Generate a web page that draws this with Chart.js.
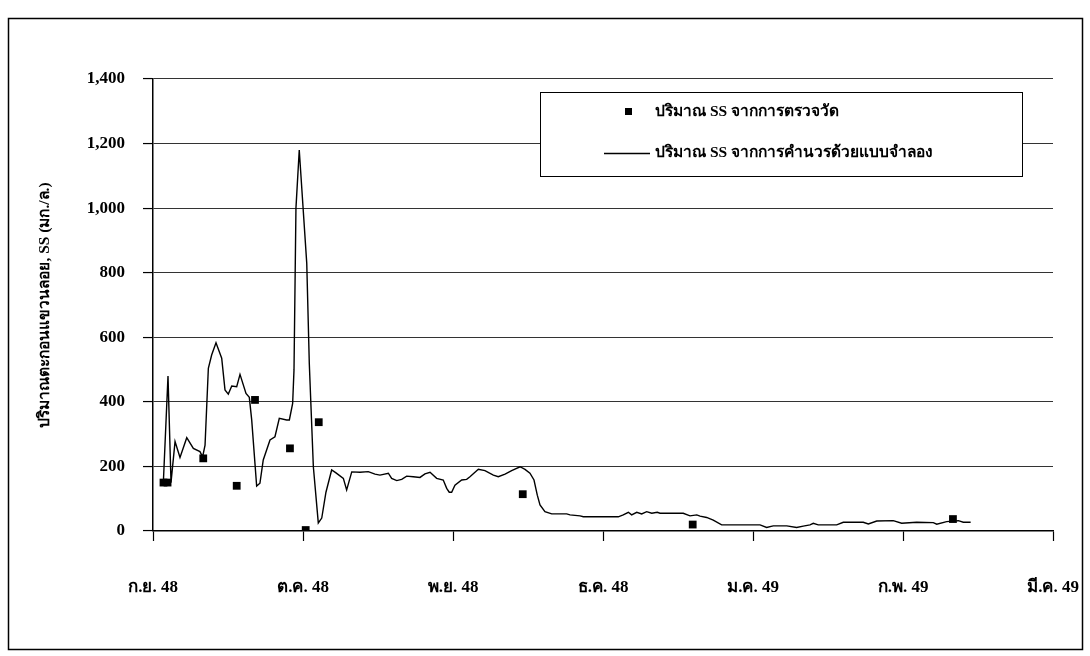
<!DOCTYPE html>
<html>
<head>
<meta charset="utf-8">
<script src="https://cdn.jsdelivr.net/npm/chart.js@4/dist/chart.umd.min.js"></script>
<style>
  html, body { margin: 0; padding: 0; background: #fff; }
  #wrap { width: 1090px; height: 656px; }
</style>
</head>
<body>
<div id="wrap"><canvas id="chart" width="1090" height="656"></canvas></div>
<script>
// x positions are in months from 1 Sep 2548 (0 = ก.ย. 48, 6 = มี.ค. 49)
const monthLabels = ["ก.ย. 48", "ต.ค. 48", "พ.ย. 48", "ธ.ค. 48", "ม.ค. 49", "ก.พ. 49", "มี.ค. 49"];

// measured suspended sediment (mg/l)
const measuredMonths = [0.070, 0.097, 0.335, 0.558, 0.680, 0.913, 1.018, 1.105, 2.465, 3.598, 5.333];
const measuredValues = [150, 150, 225, 140, 406, 256, 3, 337, 114, 20, 37];

// simulated suspended sediment (mg/l)
const modelMonths = [
  0.069, 0.100, 0.120, 0.147, 0.180, 0.225, 0.269, 0.313, 0.331, 0.347,
  0.369, 0.391, 0.420, 0.458, 0.480, 0.502, 0.525, 0.558, 0.580, 0.620,
  0.642, 0.658, 0.691, 0.713, 0.735, 0.780, 0.813, 0.842, 0.891, 0.909,
  0.931, 0.940, 0.953, 0.975, 1.025, 1.042, 1.069, 1.102, 1.125, 1.153,
  1.191, 1.220, 1.269, 1.291, 1.325, 1.380, 1.435, 1.480, 1.513, 1.569,
  1.591, 1.625, 1.658, 1.691, 1.735, 1.780, 1.813, 1.847, 1.891, 1.935,
  1.958, 1.975, 1.991, 2.013, 2.058, 2.091, 2.113, 2.169, 2.213, 2.269,
  2.302, 2.347, 2.391, 2.447, 2.480, 2.513, 2.540, 2.562, 2.580, 2.613,
  2.658, 2.758, 2.780, 2.847, 2.869, 3.102, 3.135, 3.169, 3.191, 3.225,
  3.258, 3.291, 3.325, 3.362, 3.380, 3.535, 3.580, 3.625, 3.647, 3.691,
  3.735, 3.791, 4.047, 4.091, 4.135, 4.225, 4.291, 4.335, 4.380, 4.402,
  4.435, 4.558, 4.602, 4.735, 4.769, 4.825, 4.935, 4.991, 5.091, 5.202,
  5.225, 5.291, 5.369, 5.402, 5.451
];
const modelValues = [
  150, 480, 150, 277, 228, 289, 256, 246, 230, 266,
  504, 545, 583, 535, 437, 424, 449, 447, 485, 426,
  414, 344, 139, 148, 220, 282, 292, 349, 344, 344,
  395, 499, 1000, 1180, 829, 519, 199, 25, 40, 120,
  189, 180, 163, 127, 183, 182, 184, 176, 173, 179,
  163, 156, 160, 170, 168, 166, 177, 182, 163, 158,
  132, 120, 120, 142, 158, 160, 168, 191, 187, 173,
  168, 176, 187, 199, 191, 179, 158, 111, 81, 60,
  53, 53, 50, 47, 44, 44, 50, 58, 50, 58,
  53, 60, 55, 58, 55, 55, 47, 50, 46, 42,
  34, 19, 19, 11, 16, 16, 11, 15, 19, 24,
  19, 19, 27, 27, 22, 31, 32, 24, 27, 26,
  21, 29, 32, 27, 27
];

const measuredLabel = "ปริมาณ SS จากการตรวจวัด";
const modelLabel = "ปริมาณ SS จากการคำนวรด้วยแบบจำลอง";
const yTitle = "ปริมาณตะกอนแขวนลอย, SS (มก./ล.)";

const FONT = '"Liberation Serif", "Times New Roman", serif';

// white page, outer frame and the boxed legend
const framePlugin = {
  id: "frame",
  beforeDraw(chart) {
    const ctx = chart.ctx;
    ctx.save();
    ctx.fillStyle = "#fff";
    ctx.fillRect(0, 0, chart.width, chart.height);
    ctx.restore();
  },
  afterDraw(chart) {
    const ctx = chart.ctx;
    ctx.save();
    ctx.strokeStyle = "#000";
    ctx.lineWidth = 1.5;
    ctx.strokeRect(8.5, 18.5, 1074, 631);

    // legend box
    ctx.fillStyle = "#fff";
    ctx.fillRect(540, 92, 482, 84);
    ctx.lineWidth = 1;
    ctx.strokeRect(540.5, 92.5, 482, 84);

    ctx.fillStyle = "#000";
    ctx.fillRect(625, 108, 7, 7);
    ctx.beginPath();
    ctx.moveTo(604, 153.5);
    ctx.lineTo(650, 153.5);
    ctx.lineWidth = 1.4;
    ctx.stroke();

    ctx.font = "bold 15.5px " + FONT;
    ctx.textBaseline = "middle";
    ctx.textAlign = "left";
    ctx.fillText(measuredLabel, 655, 112);
    ctx.fillText(modelLabel, 655, 153);
    ctx.restore();
  }
};

const ctx = document.getElementById("chart").getContext("2d");
const myChart = new Chart(ctx, {
  type: "scatter",
  data: {
    datasets: [
      {
        label: modelLabel,
        type: "line",
        data: modelMonths.map((m, i) => ({ x: m, y: modelValues[i] })),
        borderColor: "#000",
        borderWidth: 1.4,
        pointRadius: 0,
        fill: false,
        tension: 0,
        order: 1,
      },
      {
        label: measuredLabel,
        data: measuredMonths.map((m, i) => ({ x: m, y: measuredValues[i] })),
        pointStyle: "rect",
        pointRadius: 5.5,
        backgroundColor: "#000",
        borderColor: "#000",
        borderWidth: 0,
        order: 0,
      },
    ],
  },
  options: {
    responsive: false,
    animation: false,
    events: [],
    layout: { padding: { left: 0, top: 79, right: 37, bottom: 45 } },
    plugins: {
      legend: { display: false },
      tooltip: { enabled: false },
    },
    scales: {
      x: {
        type: "linear",
        min: 0,
        max: 6,
        afterBuildTicks(scale) {
          scale.ticks = monthLabels.map((_, i) => ({ value: i }));
        },
        afterFit(scale) {
          scale.height = 80;
          scale.paddingLeft = 0;
          scale.paddingRight = 0;
        },
        ticks: {
          color: "#000",
          padding: 36,
          maxRotation: 0,
          autoSkip: false,
          font: { family: FONT, size: 17, weight: "bold" },
          callback: (v) => monthLabels[v],
        },
        grid: {
          drawOnChartArea: false,
          drawTicks: true,
          tickLength: 10,
          tickColor: "#000",
          tickWidth: 1.2,
        },
        border: { color: "#000", width: 1.5 },
      },
      y: {
        min: 0,
        max: 1400,
        afterFit(scale) {
          scale.width = 153;
          scale.paddingTop = 0;
          scale.paddingBottom = 0;
        },
        ticks: {
          stepSize: 200,
          color: "#000",
          padding: 18,
          font: { family: FONT, size: 17, weight: "bold" },
          callback: (v) => v.toLocaleString("en-US"),
        },
        grid: {
          color: "#333",
          lineWidth: 1.1,
          tickLength: 10,
          tickColor: "#000",
          tickWidth: 1.2,
        },
        border: { color: "#000", width: 1.5 },
        title: {
          display: true,
          text: yTitle,
          color: "#000",
          padding: { top: 36, bottom: 0 },
          font: { family: FONT, size: 15.5, weight: "bold" },
        },
      },
    },
  },
  plugins: [framePlugin],
});
</script>
</body>
</html>
